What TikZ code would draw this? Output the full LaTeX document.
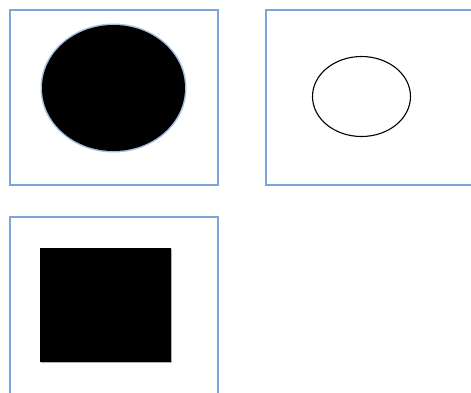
\documentclass[tikz,border=0pt]{standalone}
\begin{document}
\begin{tikzpicture}[x=1pt,y=-1pt,
  frame/.style={draw=framecol,line width=1.8pt},
  shade/.style={fill=black!25,draw=none}]
\definecolor{framecol}{RGB}{125,165,214}
\useasboundingbox (0,0) rectangle (471,392);
\clip (0,0) rectangle (471,392);
\fill[white] (0,0) rectangle (471,392);
% frames
\node[frame,minimum width=208pt,minimum height=175pt,inner sep=0pt,anchor=north west] (f1) at (9,9) {};
\node[frame,minimum width=220pt,minimum height=175pt,inner sep=0pt,anchor=north west] (f2) at (265,9) {};
\node[frame,minimum width=208pt,minimum height=190pt,inner sep=0pt,anchor=north west] (f3) at (9,216) {};
% filled ellipse with blue rim
\fill[framecol!70] (113.5,88) ellipse [x radius=73, y radius=64.5];
\fill[black] (113.5,88) ellipse [x radius=71.5, y radius=63];
% outline ellipse
\draw[black,line width=1.1pt] (361.5,96.5) ellipse [x radius=49, y radius=40];
% square
\fill[black!30] (40.5,248.5) rectangle (171.5,362.5);
\fill[black] (40,248) rectangle (171,362);
\end{tikzpicture}
\end{document}
